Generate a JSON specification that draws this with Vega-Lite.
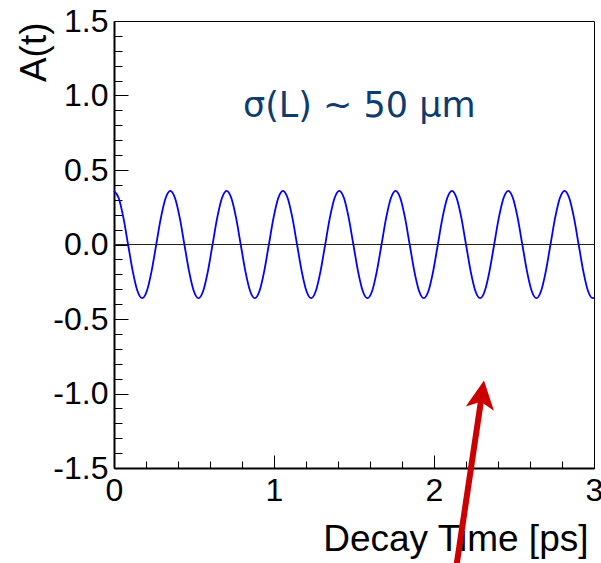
{
  "$schema": "https://vega.github.io/schema/vega-lite/v6.json",
  "width": 480,
  "height": 447,
  "autosize": {"type": "none"},
  "padding": {"left": 114, "top": 21, "right": 7, "bottom": 95},
  "background": "white",
  "config": {
    "view": {"stroke": "black", "strokeWidth": 1},
    "axis": {
      "domainColor": "black",
      "domainWidth": 2,
      "tickColor": "black",
      "tickWidth": 1,
      "grid": false,
      "labelFont": "Liberation Sans",
      "labelFontSize": 32,
      "labelColor": "black",
      "labelOverlap": false,
      "labelFlush": false,
      "labelBound": false,
      "titleFont": "Liberation Sans",
      "titleFontSize": 37,
      "titleFontWeight": "normal",
      "titleColor": "black"
    }
  },
  "datasets": {
    "curve": [
      {"t":0,"a":0.36},{"t":0.0293,"a":0.312},{"t":0.0587,"a":0.18},{"t":0.088,"a":0},{"t":0.1173,"a":-0.18},{"t":0.1467,"a":-0.312},{"t":0.176,"a":-0.36},{"t":0.2053,"a":-0.312},{"t":0.2347,"a":-0.18},{"t":0.264,"a":0},{"t":0.2933,"a":0.18},{"t":0.3227,"a":0.312},
      {"t":0.352,"a":0.36},{"t":0.3813,"a":0.312},{"t":0.4107,"a":0.18},{"t":0.44,"a":0},{"t":0.4693,"a":-0.18},{"t":0.4987,"a":-0.312},{"t":0.528,"a":-0.36},{"t":0.5573,"a":-0.312},{"t":0.5867,"a":-0.18},{"t":0.616,"a":0},{"t":0.6453,"a":0.18},{"t":0.6747,"a":0.312},
      {"t":0.704,"a":0.36},{"t":0.7333,"a":0.312},{"t":0.7627,"a":0.18},{"t":0.792,"a":0},{"t":0.8213,"a":-0.18},{"t":0.8507,"a":-0.312},{"t":0.88,"a":-0.36},{"t":0.9093,"a":-0.312},{"t":0.9387,"a":-0.18},{"t":0.968,"a":0},{"t":0.9973,"a":0.18},{"t":1.0267,"a":0.312},
      {"t":1.056,"a":0.36},{"t":1.0853,"a":0.312},{"t":1.1147,"a":0.18},{"t":1.144,"a":0},{"t":1.1733,"a":-0.18},{"t":1.2027,"a":-0.312},{"t":1.232,"a":-0.36},{"t":1.2613,"a":-0.312},{"t":1.2907,"a":-0.18},{"t":1.32,"a":0},{"t":1.3493,"a":0.18},{"t":1.3787,"a":0.312},
      {"t":1.408,"a":0.36},{"t":1.4373,"a":0.312},{"t":1.4667,"a":0.18},{"t":1.496,"a":0},{"t":1.5253,"a":-0.18},{"t":1.5547,"a":-0.312},{"t":1.584,"a":-0.36},{"t":1.6133,"a":-0.312},{"t":1.6427,"a":-0.18},{"t":1.672,"a":0},{"t":1.7013,"a":0.18},{"t":1.7307,"a":0.312},
      {"t":1.76,"a":0.36},{"t":1.7893,"a":0.312},{"t":1.8187,"a":0.18},{"t":1.848,"a":0},{"t":1.8773,"a":-0.18},{"t":1.9067,"a":-0.312},{"t":1.936,"a":-0.36},{"t":1.9653,"a":-0.312},{"t":1.9947,"a":-0.18},{"t":2.024,"a":0},{"t":2.0533,"a":0.18},{"t":2.0827,"a":0.312},
      {"t":2.112,"a":0.36},{"t":2.1413,"a":0.312},{"t":2.1707,"a":0.18},{"t":2.2,"a":0},{"t":2.2293,"a":-0.18},{"t":2.2587,"a":-0.312},{"t":2.288,"a":-0.36},{"t":2.3173,"a":-0.312},{"t":2.3467,"a":-0.18},{"t":2.376,"a":0},{"t":2.4053,"a":0.18},{"t":2.4347,"a":0.312},
      {"t":2.464,"a":0.36},{"t":2.4933,"a":0.312},{"t":2.5227,"a":0.18},{"t":2.552,"a":0},{"t":2.5813,"a":-0.18},{"t":2.6107,"a":-0.312},{"t":2.64,"a":-0.36},{"t":2.6693,"a":-0.312},{"t":2.6987,"a":-0.18},{"t":2.728,"a":0},{"t":2.7573,"a":0.18},{"t":2.7867,"a":0.312},
      {"t":2.816,"a":0.36},{"t":2.8453,"a":0.312},{"t":2.8747,"a":0.18},{"t":2.904,"a":0},{"t":2.9333,"a":-0.18},{"t":2.9627,"a":-0.312},{"t":2.992,"a":-0.36},{"t":3.0,"a":-0.356}
    ],
    "zero": [{"t": 0, "a": 0}, {"t": 3, "a": 0}],
    "note": [{"t": 1.533, "a": 0.857, "label": "σ(L) ~ 50 μm"}],
    "arrow": [{"t": 2.136, "a": -2.189, "t2": 2.2994, "a2": -1.0074}],
    "head": [{"t": 2.2994, "a": -1.0074}]
  },
  "encoding": {
    "x": {
      "field": "t", "type": "quantitative",
      "scale": {"domain": [0, 3], "nice": false, "zero": false},
      "axis": {
        "values": [0,0.2,0.4,0.6,0.8,1,1.2,1.4,1.6,1.8,2,2.2,2.4,2.6,2.8,3],
        "tickSize": {"condition": {"test": "abs(datum.value-round(datum.value))<0.001", "value": -13}, "value": -7},
        "labelExpr": "abs(datum.value-round(datum.value))<0.001 ? format(datum.value,'d') : ''",
        "labelPadding": 20,
        "title": "Decay Time [ps]",
        "titleX": 474,
        "titleY": 82,
        "titleAlign": "right",
        "titleAnchor": "start",
        "titleBaseline": "alphabetic"
      }
    },
    "y": {
      "field": "a", "type": "quantitative",
      "scale": {"domain": [-1.5, 1.5], "nice": false, "zero": false},
      "axis": {
        "values": [-1.5,-1.4,-1.3,-1.2,-1.1,-1,-0.9,-0.8,-0.7,-0.6,-0.5,-0.4,-0.3,-0.2,-0.1,0,0.1,0.2,0.3,0.4,0.5,0.6,0.7,0.8,0.9,1,1.1,1.2,1.3,1.4,1.5],
        "tickSize": {"condition": {"test": "abs(datum.value*2-round(datum.value*2))<0.001", "value": -14}, "value": -8},
        "labelExpr": "abs(datum.value*2-round(datum.value*2))<0.001 ? (datum.value<0 ? '-' : '') + format(abs(datum.value),'.1f') : ''",
        "labelPadding": 20,
        "title": "A(t)",
        "titleX": -69,
        "titleY": 1,
        "titleAngle": -90,
        "titleAlign": "right",
        "titleAnchor": "start",
        "titleBaseline": "alphabetic"
      }
    }
  },
  "layer": [
    {
      "data": {"name": "curve"},
      "mark": {"type": "line", "color": "#0000ff", "strokeWidth": 1.8, "interpolate": "monotone"}
    },
    {
      "data": {"name": "zero"},
      "mark": {"type": "line", "color": "#222222", "strokeWidth": 1}
    },
    {
      "data": {"name": "note"},
      "mark": {"type": "text", "font": "DejaVu Sans", "fontSize": 35, "color": "#0e3b70", "align": "center", "baseline": "alphabetic"},
      "encoding": {"text": {"field": "label"}}
    },
    {
      "data": {"name": "arrow"},
      "mark": {"type": "rule", "color": "#cc0000", "strokeWidth": 6, "clip": false},
      "encoding": {"x2": {"field": "t2"}, "y2": {"field": "a2"}}
    },
    {
      "data": {"name": "head"},
      "mark": {"type": "point", "shape": "M0,-1L1,1L0,0.5L-1,1Z", "size": 812, "angle": 8.4, "filled": true, "color": "#cc0000", "opacity": 1, "strokeWidth": 0, "clip": false}
    }
  ]
}
